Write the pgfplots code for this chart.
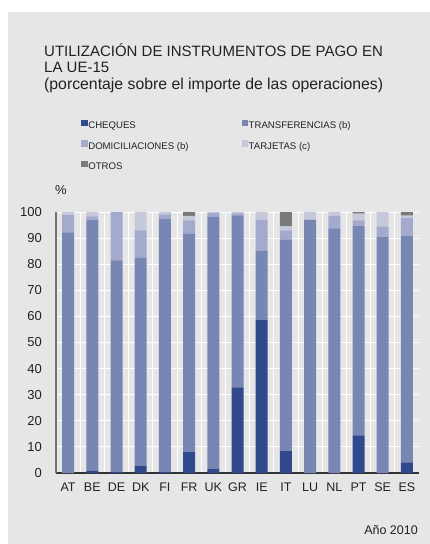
\documentclass[border=0pt]{standalone}
\usepackage{fontspec}
\setmainfont{Liberation Sans}
\usepackage{pgfplots}
\usepackage{pgfplotstable}
\pgfplotsset{compat=1.18}

\definecolor{fondo}{HTML}{E6E6E6}
\definecolor{texto}{HTML}{222222}
\definecolor{cheq}{HTML}{30498C}
\definecolor{transf}{HTML}{7886B4}
\definecolor{domic}{HTML}{A4AACE}
\definecolor{tarj}{HTML}{C6C9DA}
\definecolor{otros}{HTML}{7A7A7A}

% porcentaje sobre el importe, año 2010
\pgfplotstableread{
x pais ch tr dom tar otr
0  AT 0.0  92.2 6.6  1.2 0.0
1  BE 0.8  96.3 1.2  1.7 0.0
2  DE 0.3  81.2 18.5 0.0 0.0
3  DK 2.6  79.8 10.6 7.0 0.0
4  FI 0.3  97.0 1.8  0.9 0.0
5  FR 8.0  83.6 5.2  1.7 1.5
6  UK 1.5  96.6 1.5  0.4 0.0
7  GR 32.8 65.9 0.8  0.5 0.0
8  IE 58.6 26.5 12.0 2.9 0.0
9  IT 8.4  80.9 3.7  1.5 5.5
10 LU 0.0  96.9 0.3  2.8 0.0
11 NL 0.0  93.7 4.8  1.5 0.0
12 PT 14.4 80.2 2.2  2.6 0.6
13 SE 0.0  90.4 4.0  5.6 0.0
14 ES 4.1  86.7 6.9  0.9 1.4
}\datos

\begin{document}
\begin{tikzpicture}[every node/.style={text=texto}]
\fill[white] (0pt,0pt) rectangle (430pt,-544pt);
\fill[fondo] (8pt,-12pt) rectangle (430pt,-544pt);

\node[anchor=base west, inner sep=0pt, font=\fontsize{15}{16.5}\selectfont]
  at (44pt,-56pt) {UTILIZACIÓN DE INSTRUMENTOS DE PAGO EN};
\node[anchor=base west, inner sep=0pt, font=\fontsize{15}{16.5}\selectfont]
  at (44pt,-72.5pt) {LA UE-15};
\node[anchor=base west, inner sep=0pt, font=\fontsize{15.8}{17}\selectfont]
  at (44pt,-89pt) {(porcentaje sobre el importe de las operaciones)};

\node[inner sep=0pt, font=\fontsize{13}{15}\selectfont] at (61pt,-190pt) {\%};
\node[anchor=base east, inner sep=0pt, font=\fontsize{12.5}{14}\selectfont]
  at (418pt,-534pt) {Año 2010};

\begin{axis}[
  at={(56pt,-473pt)}, anchor=south west,
  scale only axis, width=363pt, height=261pt,
  ybar stacked, bar width=12pt,
  xmin=-0.5, xmax=14.5, ymin=0, ymax=100,
  xtick={0,...,14},
  xticklabels={AT,BE,DE,DK,FI,FR,UK,GR,IE,IT,LU,NL,PT,SE,ES},
  ytick={0,10,...,100},
  minor xtick={0.5,1.5,...,13.5},
  major tick length=0pt, minor tick length=0pt,
  ymajorgrids=true, xminorgrids=true,
  grid style={white, line width=1pt},
  minor grid style={white, line width=1pt},
  axis x line*=bottom, axis y line*=left,
  axis line style={-},
  x axis line style={draw=black!80, line width=1.2pt},
  y axis line style={draw=black!55, line width=1.5pt},
  /pgf/number format/assume math mode=true,
  yticklabel style={font=\fontsize{13}{15}\selectfont, anchor=east, inner sep=0pt, xshift=-14pt},
  xticklabel style={font=\fontsize{12.5}{14}\selectfont, anchor=north, inner sep=0pt, yshift=-9.7pt},
  every axis plot/.append style={draw=none},
  legend image code/.code={\fill[#1] (0pt,0pt) rectangle (6.5pt,6.5pt);},
  legend columns=2,
  legend cell align=left,
  legend style={
    at={(0.069,1.355)}, anchor=north west,
    draw=none, fill=none, inner sep=0pt,
    font=\fontsize{9.6}{11}\selectfont,
    row sep=9.5pt,
    nodes={inner sep=0pt, text height=7pt, text depth=2pt},
    /tikz/every odd column/.append style={column sep=0.6pt},
    /tikz/every even column/.append style={column sep=53pt},
  },
]
\addplot[fill=cheq] table[x=x, y=ch] {\datos};
\addplot[fill=transf] table[x=x, y=tr] {\datos};
\addplot[fill=domic] table[x=x, y=dom] {\datos};
\addplot[fill=tarj] table[x=x, y=tar] {\datos};
\addplot[fill=otros] table[x=x, y=otr] {\datos};
\legend{CHEQUES, TRANSFERENCIAS (b), DOMICILIACIONES (b), TARJETAS (c), OTROS}
\end{axis}
\end{tikzpicture}
\end{document}
